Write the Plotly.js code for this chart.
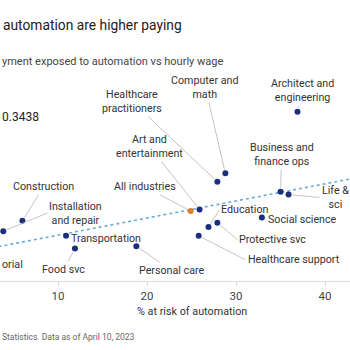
<!DOCTYPE html>
<html>
<head>
<meta charset="utf-8">
<script src="https://cdn.plot.ly/plotly-3.0.1.min.js"></script>
<style>html,body{margin:0;padding:0;background:#fff;}#chart{width:350px;height:350px;}</style>
</head>
<body>
<div id="chart"></div>
<script>
// ---- data ----
var categories = ["Architect and engineering","Computer and math","Healthcare practitioners","Business and finance ops","Life & sci","All industries","Art and entertainment","Social science","Education","Protective svc","Healthcare support","Construction","Installation and repair","Transportation","Food svc","Personal care"];
var riskPct = [36.9, 28.8, 27.9, 35.0, 35.9, 24.9, 25.9, 32.9, 26.9, 27.9, 25.8, 6.0, 3.85, 10.9, 11.9, 18.8];
var hourlyWage = [45.0, 31.9, 30.1, 28.0, 27.4, 23.9, 24.2, 22.5, 20.5, 21.4, 18.6, 21.8, 19.6, 18.6, 15.9, 16.4];
var trendX = [0, 45];
var trendY = [15.1, 31.5];
var xTicks = [10, 20, 30, 40];

// ---- styling / label placement ----
var FONT = "Roboto, Lato, sans-serif";
var LABEL_SIZE = 10.7;
var labelText = {
  "Architect and engineering": "Architect and<br>engineering",
  "Computer and math": "Computer and<br>math",
  "Healthcare practitioners": "Healthcare<br>practitioners",
  "Business and finance ops": "Business and<br>finance ops",
  "Life & sci": "Life &<br>sci",
  "Art and entertainment": "Art and<br>entertainment",
  "Installation and repair": "Installation<br>and repair"
};
var labelPos = {
  "Architect and engineering": {ax: 5, ay: -21},
  "Computer and math": {ax: -20, ay: -86},
  "Healthcare practitioners": {ax: -85, ay: -80},
  "Business and finance ops": {ax: 1, ay: -37},
  "Life & sci": {ax: 31, ay: 3, xanchor: "left"},
  "All industries": {ax: -46, ay: -24},
  "Art and entertainment": {ax: -50, ay: -63},
  "Social science": {ax: 4, ay: 1.5, xanchor: "left", noarrow: true},
  "Education": {ax: 11, ay: -17, xanchor: "left"},
  "Protective svc": {ax: 20, ay: 17, xanchor: "left"},
  "Healthcare support": {ax: 47, ay: 24, xanchor: "left"},
  "Construction": {ax: 21, ay: -34},
  "Installation and repair": {ax: 44, ay: -18, xanchor: "left"},
  "Transportation": {ax: 3, ay: 3, xanchor: "left", noarrow: true},
  "Food svc": {ax: -11, ay: 21},
  "Personal care": {ax: 35, ay: 24}
};

var colors = categories.map(function(c){ return c === "All industries" ? "#d9822b" : "#1c2f7c"; });

var traces = [
  {x: trendX, y: trendY, mode: "lines", line: {color: "#6aaad6", width: 1.6, dash: "dot"}, hoverinfo: "skip"},
  {x: riskPct, y: hourlyWage, mode: "markers", marker: {color: colors, size: 6}, text: categories, cliponaxis: false}
];

var annotations = categories.map(function(c, i){
  var p = labelPos[c];
  var a = {
    x: riskPct[i], y: hourlyWage[i], xref: "x", yref: "y",
    text: labelText[c] || c,
    font: {family: FONT, size: LABEL_SIZE, color: "#333"},
    align: "center"
  };
  if (p.noarrow) {
    a.showarrow = false; a.xanchor = p.xanchor || "center"; a.xshift = p.ax; a.yshift = -p.ay;
  } else {
    a.showarrow = true; a.arrowhead = 0; a.arrowwidth = 0.8; a.arrowcolor = "#b5b5b5";
    a.ax = p.ax; a.ay = p.ay; a.standoff = 4;
    if (p.xanchor) a.xanchor = p.xanchor;
  }
  return a;
});

function py(v){ return (281 - v) / 281; }
annotations.push(
  {xref: "paper", yref: "paper", x: 1/350, y: py(25), xanchor: "left", yanchor: "middle", showarrow: false,
   text: "automation are higher paying", font: {family: FONT, size: 13.8, color: "#222"}},
  {xref: "paper", yref: "paper", x: 0, y: py(62), xanchor: "left", yanchor: "middle", showarrow: false,
   text: "yment exposed to automation vs hourly wage", font: {family: FONT, size: 11, color: "#444"}},
  {xref: "paper", yref: "paper", x: 0, y: py(117), xanchor: "left", yanchor: "middle", showarrow: false,
   text: "0.3438", font: {family: FONT, size: 12, color: "#222"}},
  {xref: "paper", yref: "paper", x: 0, y: py(264), xanchor: "left", yanchor: "middle", showarrow: false,
   text: "orial", font: {family: FONT, size: LABEL_SIZE, color: "#333"}},
  {xref: "paper", yref: "paper", x: 192/350, y: py(311), xanchor: "center", yanchor: "middle", showarrow: false,
   text: "% at risk of automation", font: {family: FONT, size: 10.8, color: "#333"}},
  {xref: "paper", yref: "paper", x: 0, y: py(337), xanchor: "left", yanchor: "middle", showarrow: false,
   text: "Statistics. Data as of April 10, 2023", font: {family: FONT, size: 8.5, color: "#666"}}
);

var layout = {
  width: 350, height: 350,
  margin: {l: 0, r: 0, t: 0, b: 69, pad: 0},
  paper_bgcolor: "#fff", plot_bgcolor: "#fff",
  showlegend: false,
  font: {family: FONT},
  xaxis: {range: [3.48, 42.8], tickvals: xTicks, ticks: "outside", ticklen: 4, tickcolor: "#dcdcdc",
          showline: true, linecolor: "#dcdcdc", linewidth: 1, showgrid: false, zeroline: false,
          tickfont: {family: FONT, size: 11.5, color: "#444"}},
  yaxis: {range: [8.99, 68.8], visible: false, showgrid: false, zeroline: false},
  annotations: annotations
};

Plotly.newPlot("chart", traces, layout, {displayModeBar: false, staticPlot: true});
</script>
</body>
</html>
